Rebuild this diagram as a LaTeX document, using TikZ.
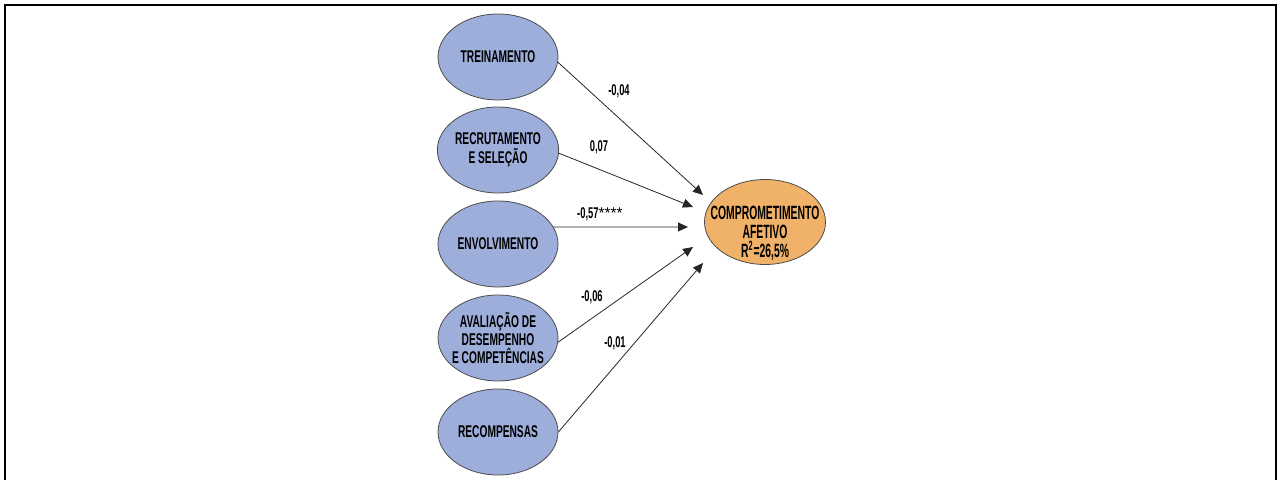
\documentclass[tikz,border=0pt]{standalone}
\usepackage{fontspec}
\setmainfont{Liberation Sans}[FakeStretch=0.6]
\newfontfamily\plainfont{Liberation Sans}
\newfontfamily\narrowfont{Liberation Sans}[FakeStretch=0.54]
\usetikzlibrary{arrows.meta,shapes.geometric}
\definecolor{latentblue}{RGB}{157,174,219}
\definecolor{outcomeorange}{RGB}{240,178,104}

\begin{document}
\begin{tikzpicture}[x=0.5pt,y=-0.5pt]
\tikzset{latent/.style={draw=black!70,fill=latentblue,ellipse,minimum width=60pt,minimum height=43pt,
    inner sep=0pt,align=center,font=\bfseries\fontsize{8.5}{9.2}\selectfont},
  outcome/.style={latent,fill=outcomeorange,minimum width=60.5pt,minimum height=42.5pt},
  coef/.style={font=\bfseries\fontsize{7.8}{9}\selectfont,inner sep=0pt},
  effect/.style={-{Triangle[length=5pt,width=4.5pt]},black!85,line width=0.4pt}}
\useasboundingbox (0,0) rectangle (1281,480);
\draw[line width=1pt] (5,480) -- (5,5) -- (1276,5) -- (1276,480);

% exogenous constructs
\node[latent] (trein) at (498,57) {TREINAMENTO};
\node[latent] (recrut) at (498,150) {RECRUTAMENTO\\E SELEÇÃO};
\node[latent] (envol) at (498,244) {ENVOLVIMENTO};
\node[latent,inner xsep=-2.4pt] (aval) at (498,338) {AVALIAÇÃO DE\\DESEMPENHO\\E COMPETÊNCIAS};
\node[latent] (recomp) at (498,432) {RECOMPENSAS};

% endogenous construct
\node[outcome] (comp) at (765,222) {};
\node[align=center,font=\narrowfont\bfseries\fontsize{9.6}{9.6}\selectfont,inner sep=0pt] (comptxt) at (765,233)
  {COMPROMETIMENTO\\AFETIVO\\R\textsuperscript{2}=26,5\%};

\coordinate (t1) at (703,195);
\coordinate (t2) at (693,207);
\coordinate (t3) at (688,227);
\coordinate (t4) at (693,247);
\coordinate (t5) at (703,263);

\draw[effect] (trein.-5) -- (t1);
\draw[effect] (recrut.-3) -- (t2);
\draw[effect] (envol.17) -- (t3);
\draw[effect] (aval.-4) -- (t4);
\draw[effect] (recomp.east) -- (t5);

% path coefficients
\node[coef] (c1) at (619,91) {-0,04};
\node[coef] (c2) at (599,147) {0,07};
\node[coef] (c3) at (600,214) {-0,57{\plainfont\mdseries ****}};
\node[coef] (c4) at (592,297) {-0,06};
\node[coef] (c5) at (615,343) {-0,01};
\end{tikzpicture}
\end{document}
